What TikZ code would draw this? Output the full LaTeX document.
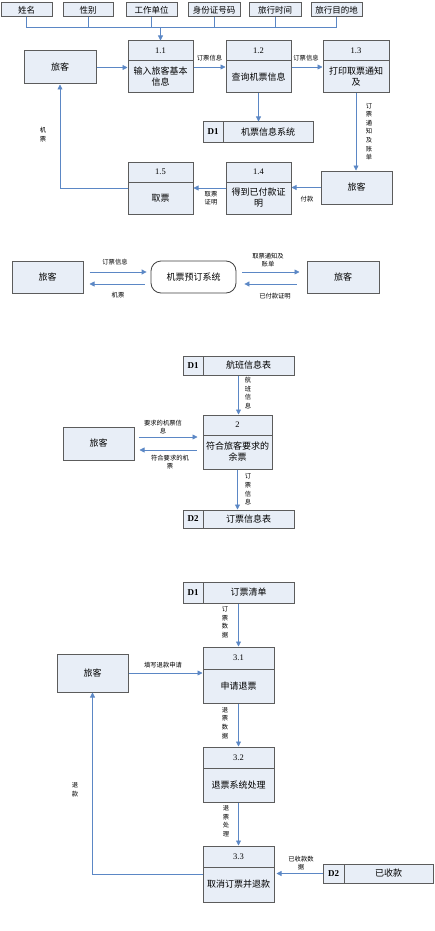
\documentclass[tikz,border=0pt]{standalone}
\usepackage{fontspec}
\setmainfont{Liberation Serif}
\newfontfamily\cjk{Noto Sans CJK SC}
\usetikzlibrary{arrows.meta,fit}
\definecolor{boxfill}{HTML}{E8EEF7}
\definecolor{boxline}{HTML}{5C5C5C}
\definecolor{flowc}{HTML}{5B87C5}
\begin{document}
\begin{tikzpicture}[x=1pt,y=-1pt,
  box/.style={draw=boxline, fill=boxfill, line width=1pt, inner sep=0pt},
  sysbox/.style={draw=black!75, fill=white, line width=0.8pt, rounded corners=10pt, inner sep=0pt},
  divl/.style={draw=boxline, line width=1pt},
  numt/.style={font=\fontsize{8.5}{10}\selectfont, inner sep=0pt},
  idt/.style={font=\bfseries\fontsize{9}{10}\selectfont, inner sep=0pt},
  ptxt/.style={font=\cjk\fontsize{9}{11}\selectfont, inner sep=0pt, align=center},
  atxt/.style={font=\cjk\fontsize{8.5}{10}\selectfont, inner sep=0pt},
  flow/.style={draw=flowc, line width=0.8pt},
  arr/.style={flow, -{Triangle[width=5pt,length=5pt]}},
  lab/.style={font=\cjk\fontsize{6.3}{8}\selectfont, inner sep=0pt, align=center},
  vlab/.style={font=\cjk\fontsize{6.3}{8.6}\selectfont, inner sep=0pt, align=center}]
\useasboundingbox (0,0) rectangle (435,931);

% ---------------- Diagram 1 ----------------
\node[box, fit={(1,3) (52,17)}, label={[atxt]center:姓名}] (a1) {};
\node[box, fit={(63,3) (113,17)}, label={[atxt]center:性别}] (a2) {};
\node[box, fit={(126,3) (177,17)}, label={[atxt]center:工作单位}] (a3) {};
\node[box, fit={(188,3) (240,17)}, label={[atxt]center:身份证号码}] (a4) {};
\node[box, fit={(249,3) (301,17)}, label={[atxt]center:旅行时间}] (a5) {};
\node[box, fit={(311,3) (362,17)}, label={[atxt]center:旅行目的地}] (a6) {};

\node[box, fit={(24,51) (96,84)}, label={[ptxt]center:旅客}] (tr) {};
\node[box, fit={(128,41) (193,93)}] (p11) {};
\node[box, fit={(226,41) (291,93)}] (p12) {};
\node[box, fit={(323,41) (389,93)}] (p13) {};
\node[box, fit={(226,162) (291,214)}] (p14) {};
\node[box, fit={(128,162) (193,214)}] (p15) {};
\node[box, fit={(321,171) (392,204)}, label={[ptxt]center:旅客}] (rr) {};
\node[box, fit={(203,122) (313,142)}] (d1a) {};

\draw[divl] (128,61) -- (193,61);
\draw[divl] (226,61) -- (291,61);
\draw[divl] (323,61) -- (389,61);
\draw[divl] (226,182) -- (291,182);
\draw[divl] (128,182) -- (193,182);
\draw[divl] (223,122) -- (223,142);

\node[numt] at (160.5,51) {1.1};
\node[numt] at (258.5,51) {1.2};
\node[numt] at (356,51) {1.3};
\node[numt] at (258.5,172) {1.4};
\node[numt] at (160.5,172) {1.5};
\node[ptxt] at (160.5,77) {输入旅客基本\\信息};
\node[ptxt] at (258.5,77) {查询机票信息};
\node[ptxt] at (356,77) {打印取票通知\\及};
\node[ptxt] at (258.5,198) {得到已付款证\\明};
\node[ptxt] at (160.5,198) {取票};
\node[idt] at (213,132) {D1};
\node[ptxt] at (268,132) {机票信息系统};

\coordinate (bus) at (160.5,27);
\foreach \a in {a1,a2,a3,a4,a5,a6} \draw[flow] (\a.south) |- (bus);
\draw[arr] (bus) -- (p11.north);
\draw[arr] (tr.east) -- (tr.east -| p11.west);
\draw[arr] (p11.east) -- (p12.west);
\draw[arr] (p12.east) -- (p13.west);
\draw[arr] (p12.south) -- (p12.south |- d1a.north);
\draw[arr] (p13.south) -- (p13.south |- rr.north);
\draw[arr] (rr.west) -- (rr.west -| p14.east);
\draw[arr] (p14.west) -- (p15.east);
\draw[arr] (p15.west) -| (tr.south);

\node[lab] at (209.5,58.5) {订票信息};
\node[lab] at (306,58.5) {订票信息};
\node[vlab] at (369,131.5) {订\\票\\通\\知\\及\\账\\单};
\node[vlab] at (43,134.5) {机\\票};
\node[lab] at (211,198) {取票\\证明};
\node[lab] at (307,199) {付款};

% ---------------- Diagram 2 ----------------
\node[box, fit={(12,261) (83,293)}, label={[ptxt]center:旅客}] (m1) {};
\node[sysbox, fit={(151,261) (236,293)}, label={[ptxt]center:机票预订系统}] (sys) {};
\node[box, fit={(307,261) (379,293)}, label={[ptxt]center:旅客}] (m2) {};

\draw[arr] ([shift={(6,-5)}]m1.east) -- ([shift={(-4,-5)}]sys.west);
\draw[arr] ([shift={(-6,7)}]sys.west) -- ([shift={(6,7)}]m1.east);
\draw[arr] ([shift={(6,-5)}]sys.east) -- ([shift={(-7,-5)}]m2.west);
\draw[arr] ([shift={(-10,7)}]m2.west) -- ([shift={(8,7)}]sys.east);

\node[lab] at (115,262) {订票信息};
\node[lab] at (118,295.5) {机票};
\node[lab] at (268,260) {取票通知及\\账单};
\node[lab] at (275,296) {已付款证明};

% ---------------- Diagram 3 ----------------
\node[box, fit={(183,356) (294,375)}] (d1b) {};
\node[box, fit={(203,415) (272,469)}] (p2) {};
\node[box, fit={(183,510) (294,528)}] (d2b) {};
\node[box, fit={(63,427) (134,460)}, label={[ptxt]center:旅客}] (t3) {};
\draw[divl] (203,356) -- (203,375);
\draw[divl] (203,510) -- (203,528);
\draw[divl] (203,435) -- (272,435);
\node[idt] at (193,365.5) {D1};
\node[ptxt] at (248.5,365.5) {航班信息表};
\node[idt] at (193,519) {D2};
\node[ptxt] at (248.5,519) {订票信息表};
\node[numt] at (237.5,425) {2};
\node[ptxt] at (237.5,452) {符合旅客要求的\\余票};

\draw[arr] (d1b.south) -- (d1b.south |- p2.north);
\draw[arr] (p2.south) -- (p2.south |- d2b.north);
\draw[arr] ([shift={(4,-6.5)}]t3.east) -- ([shift={(-5,-5)}]p2.west);
\draw[arr] ([shift={(-6,8)}]p2.west) -- ([shift={(5,6.5)}]t3.east);

\node[vlab] at (248,393) {航\\班\\信\\息};
\node[vlab] at (248,489.5) {订\\票\\信\\息};
\node[lab] at (163,427) {要求的机票信\\息};
\node[lab] at (170,462.5) {符合要求的机\\票};

% ---------------- Diagram 4 ----------------
\node[box, fit={(183,582) (294,603)}] (d1c) {};
\node[box, fit={(57,654) (128,692)}, label={[ptxt]center:旅客}] (f4) {};
\node[box, fit={(203,647) (274,703)}] (p31) {};
\node[box, fit={(203,747) (274,802)}] (p32) {};
\node[box, fit={(203,846) (274,902)}] (p33) {};
\node[box, fit={(323,864) (433,883)}] (d2c) {};
\draw[divl] (203,582) -- (203,603);
\draw[divl] (344,864) -- (344,883);
\draw[divl] (203,669) -- (274,669);
\draw[divl] (203,768) -- (274,768);
\draw[divl] (203,867) -- (274,867);
\node[idt] at (193,592.5) {D1};
\node[ptxt] at (248.5,592.5) {订票清单};
\node[idt] at (333.5,873.5) {D2};
\node[ptxt] at (388.5,873.5) {已收款};
\node[numt] at (238.5,658) {3.1};
\node[ptxt] at (238.5,686) {申请退票};
\node[numt] at (238.5,757.5) {3.2};
\node[ptxt] at (238.5,785) {退票系统处理};
\node[numt] at (238.5,856.5) {3.3};
\node[ptxt] at (238.5,884.5) {取消订票并退款};

\draw[arr] (d1c.south) -- (d1c.south |- p31.north);
\draw[arr] (f4.east) -- (f4.east -| p31.west);
\draw[arr] (p31.south) -- (p32.north);
\draw[arr] (p32.south) -- (p33.north);
\draw[arr, shorten >=2pt] (d2c.west) -- (d2c.west -| p33.east);
\draw[arr] (p33.west) -| (f4.south);

\node[vlab] at (225,622) {订\\票\\数\\据};
\node[vlab] at (225,723) {退\\票\\数\\据};
\node[vlab] at (226,821) {退\\票\\处\\理};
\node[vlab] at (75,790) {退\\款};
\node[lab] at (163,665) {填写退款申请};
\node[lab] at (301,863) {已收款数\\据};
\end{tikzpicture}
\end{document}
